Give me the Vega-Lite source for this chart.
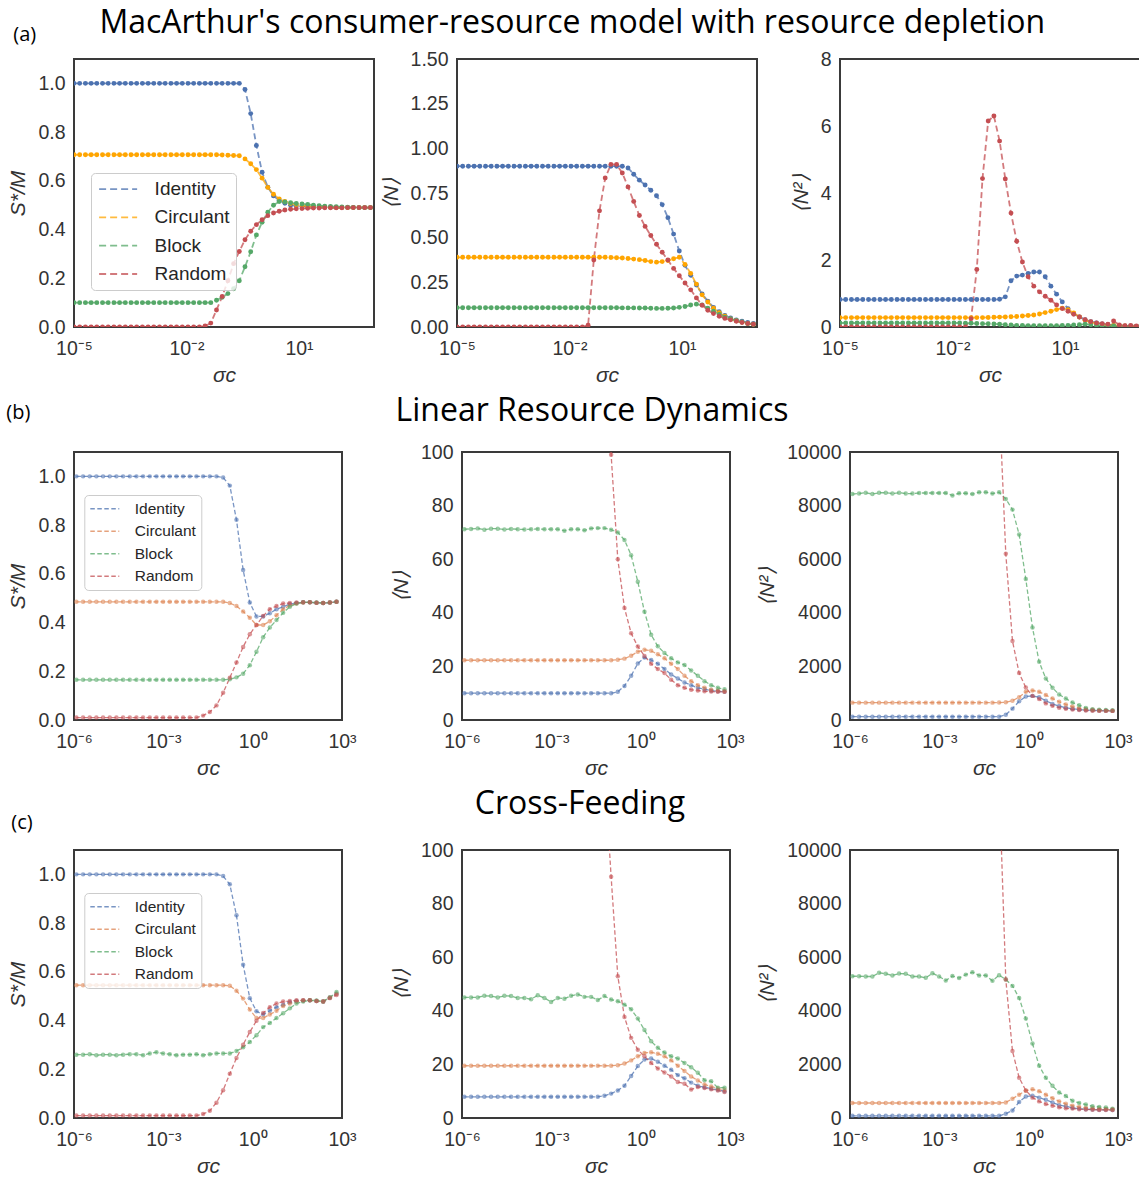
{
"$schema":"https://vega.github.io/schema/vega-lite/v6.json",
"padding":{"left":5,"top":5,"right":0,"bottom":0},
"background":"white",
"config":{
 "font":"Liberation Sans",
 "view":{"stroke":"#3a3a3a","strokeWidth":2},
 "axis":{"domain":false,"ticks":false,"tickSize":0,"grid":false,"labelFontSize":19.5,"labelColor":"#333333","labelFlush":false,"labelOverlap":false,"titleFontSize":21,"titleColor":"#333333","titleFontWeight":"normal","titleFontStyle":"italic","titleFont":"Liberation Sans"},
 "axisX":{"labelPadding":12,"titlePadding":7},
 "axisY":{"labelPadding":9,"titlePadding":9},
 "title":{"font":"Open Sans","fontWeight":"normal","color":"#000000","offset":0,"baseline":"alphabetic","limit":1500}
},
"datasets":{
"a1":[
{"x":1e-5,"I":1,"C":0.707,"B":0.1,"R":0},{"x":1.419e-5,"I":1,"C":0.707,"B":0.1,"R":0},{"x":2.014e-5,"I":1,"C":0.707,"B":0.1,"R":0},{"x":2.858e-5,"I":1,"C":0.707,"B":0.1,"R":0},{"x":4.055e-5,"I":1,"C":0.707,"B":0.1,"R":0},{"x":5.754e-5,"I":1,"C":0.707,"B":0.1,"R":0},{"x":8.166e-5,"I":1,"C":0.707,"B":0.1,"R":0},{"x":1.159e-4,"I":1,"C":0.707,"B":0.1,"R":0},{"x":1.644e-4,"I":1,"C":0.707,"B":0.1,"R":0},{"x":2.333e-4,"I":1,"C":0.707,"B":0.1,"R":0},{"x":3.311e-4,"I":1,"C":0.707,"B":0.1,"R":0},{"x":4.699e-4,"I":1,"C":0.707,"B":0.1,"R":0},{"x":6.668e-4,"I":1,"C":0.707,"B":0.1,"R":0},{"x":9.462e-4,"I":1,"C":0.707,"B":0.1,"R":0},{"x":1.343e-3,"I":1,"C":0.707,"B":0.1,"R":0},{"x":1.905e-3,"I":1,"C":0.707,"B":0.1,"R":0},{"x":2.704e-3,"I":1,"C":0.707,"B":0.1,"R":0},{"x":3.837e-3,"I":1,"C":0.707,"B":0.1,"R":0},{"x":5.445e-3,"I":1,"C":0.707,"B":0.1,"R":0},{"x":7.727e-3,"I":1,"C":0.707,"B":0.1,"R":0},{"x":1.096e-2,"I":1,"C":0.707,"B":0.1,"R":0},{"x":1.556e-2,"I":1,"C":0.707,"B":0.1,"R":0},{"x":2.208e-2,"I":1,"C":0.707,"B":0.1,"R":0},
{"x":3.133e-2,"I":1,"C":0.707,"B":0.1,"R":0.004},{"x":4.446e-2,"I":1,"C":0.707,"B":0.1,"R":0.016},{"x":6.31e-2,"I":1,"C":0.707,"B":0.11,"R":0.07},{"x":8.954e-2,"I":1,"C":0.706,"B":0.122,"R":0.125},{"x":0.1271,"I":1,"C":0.705,"B":0.137,"R":0.19},{"x":0.1803,"I":1,"C":0.704,"B":0.157,"R":0.26},{"x":0.2559,"I":1,"C":0.703,"B":0.19,"R":0.31},{"x":0.3631,"I":0.975,"C":0.69,"B":0.247,"R":0.358},{"x":0.5152,"I":0.876,"C":0.67,"B":0.309,"R":0.393},{"x":0.7311,"I":0.745,"C":0.646,"B":0.378,"R":0.42},{"x":1.038,"I":0.635,"C":0.611,"B":0.43,"R":0.44},{"x":1.472,"I":0.574,"C":0.573,"B":0.471,"R":0.457},{"x":2.089,"I":0.538,"C":0.545,"B":0.5,"R":0.468},{"x":2.965,"I":0.52,"C":0.526,"B":0.515,"R":0.475},{"x":4.207,"I":0.508,"C":0.515,"B":0.513,"R":0.48},{"x":5.97,"I":0.5,"C":0.507,"B":0.51,"R":0.483},{"x":8.472,"I":0.497,"C":0.502,"B":0.507,"R":0.485},{"x":12.02,"I":0.495,"C":0.498,"B":0.505,"R":0.486},{"x":17.06,"I":0.494,"C":0.496,"B":0.503,"R":0.487},{"x":24.21,"I":0.493,"C":0.494,"B":0.5,"R":0.488},{"x":34.36,"I":0.492,"C":0.493,"B":0.498,"R":0.488},{"x":48.75,"I":0.491,"C":0.492,"B":0.496,"R":0.489},{"x":69.18,"I":0.491,"C":0.491,"B":0.495,"R":0.489},{"x":98.17,"I":0.49,"C":0.49,"B":0.494,"R":0.489},{"x":139.3,"I":0.49,"C":0.49,"B":0.493,"R":0.489},{"x":197.7,"I":0.49,"C":0.49,"B":0.492,"R":0.49},{"x":280.5,"I":0.49,"C":0.49,"B":0.491,"R":0.49},{"x":398.1,"I":0.49,"C":0.49,"B":0.49,"R":0.49},{"x":564.9,"I":0.49,"C":0.49,"B":0.49,"R":0.49},{"x":801.7,"I":0.49,"C":0.49,"B":0.49,"R":0.49}
],
"a2":[
{"x":1e-5,"I":0.9,"C":0.39,"B":0.108,"R":0},{"x":1.419e-5,"I":0.9,"C":0.39,"B":0.108,"R":0},{"x":2.014e-5,"I":0.9,"C":0.39,"B":0.108,"R":0},{"x":2.858e-5,"I":0.9,"C":0.39,"B":0.108,"R":0},{"x":4.055e-5,"I":0.9,"C":0.39,"B":0.108,"R":0},{"x":5.754e-5,"I":0.9,"C":0.39,"B":0.108,"R":0},{"x":8.166e-5,"I":0.9,"C":0.39,"B":0.108,"R":0},{"x":1.159e-4,"I":0.9,"C":0.39,"B":0.108,"R":0},{"x":1.644e-4,"I":0.9,"C":0.39,"B":0.108,"R":0},{"x":2.333e-4,"I":0.9,"C":0.39,"B":0.108,"R":0},{"x":3.311e-4,"I":0.9,"C":0.39,"B":0.108,"R":0},{"x":4.699e-4,"I":0.9,"C":0.39,"B":0.108,"R":0},{"x":6.668e-4,"I":0.9,"C":0.39,"B":0.108,"R":0},{"x":9.462e-4,"I":0.9,"C":0.39,"B":0.108,"R":0},{"x":1.343e-3,"I":0.9,"C":0.39,"B":0.108,"R":0},{"x":1.905e-3,"I":0.9,"C":0.39,"B":0.108,"R":0},{"x":2.704e-3,"I":0.9,"C":0.39,"B":0.108,"R":0},{"x":3.837e-3,"I":0.9,"C":0.39,"B":0.108,"R":0},{"x":5.445e-3,"I":0.9,"C":0.39,"B":0.108,"R":0},{"x":7.727e-3,"I":0.9,"C":0.39,"B":0.108,"R":0},{"x":1.096e-2,"I":0.9,"C":0.39,"B":0.108,"R":0},{"x":1.556e-2,"I":0.9,"C":0.39,"B":0.108,"R":0},{"x":2.208e-2,"I":0.9,"C":0.39,"B":0.108,"R":0},
{"x":3.133e-2,"I":0.9,"C":0.39,"B":0.108,"R":0.01},{"x":4.446e-2,"I":0.9,"C":0.39,"B":0.108,"R":0.375},{"x":6.31e-2,"I":0.9,"C":0.39,"B":0.108,"R":0.65},{"x":8.954e-2,"I":0.9,"C":0.39,"B":0.108,"R":0.834},{"x":0.1271,"I":0.9,"C":0.389,"B":0.108,"R":0.91},{"x":0.1803,"I":0.9,"C":0.388,"B":0.108,"R":0.91},{"x":0.2559,"I":0.9,"C":0.386,"B":0.107,"R":0.862},{"x":0.3631,"I":0.89,"C":0.383,"B":0.107,"R":0.784},{"x":0.5152,"I":0.855,"C":0.38,"B":0.107,"R":0.703},{"x":0.7311,"I":0.822,"C":0.377,"B":0.106,"R":0.624},{"x":1.038,"I":0.795,"C":0.372,"B":0.106,"R":0.563},{"x":1.472,"I":0.765,"C":0.366,"B":0.105,"R":0.512},{"x":2.089,"I":0.735,"C":0.363,"B":0.104,"R":0.463},{"x":2.965,"I":0.685,"C":0.366,"B":0.104,"R":0.418},{"x":4.207,"I":0.612,"C":0.372,"B":0.105,"R":0.375},{"x":5.97,"I":0.52,"C":0.382,"B":0.106,"R":0.328},{"x":8.472,"I":0.425,"C":0.39,"B":0.11,"R":0.287},{"x":12.02,"I":0.345,"C":0.35,"B":0.115,"R":0.246},{"x":17.06,"I":0.29,"C":0.3,"B":0.123,"R":0.208},{"x":24.21,"I":0.235,"C":0.24,"B":0.128,"R":0.163},{"x":34.36,"I":0.185,"C":0.18,"B":0.124,"R":0.122},{"x":48.75,"I":0.145,"C":0.14,"B":0.105,"R":0.094},{"x":69.18,"I":0.11,"C":0.105,"B":0.088,"R":0.075},{"x":98.17,"I":0.085,"C":0.08,"B":0.07,"R":0.06},{"x":139.3,"I":0.065,"C":0.06,"B":0.055,"R":0.048},{"x":197.7,"I":0.05,"C":0.045,"B":0.045,"R":0.04},{"x":280.5,"I":0.04,"C":0.035,"B":0.035,"R":0.032},{"x":398.1,"I":0.032,"C":0.027,"B":0.028,"R":0.025},{"x":564.9,"I":0.025,"C":0.02,"B":0.02,"R":0.02},{"x":801.7,"I":0.02,"C":0.015,"B":0.015,"R":0.015}
],
"a3":[
{"x":1e-5,"I":0.82,"C":0.28,"B":0.12,"R":0},{"x":1.419e-5,"I":0.82,"C":0.28,"B":0.12,"R":0},{"x":2.014e-5,"I":0.82,"C":0.28,"B":0.12,"R":0},{"x":2.858e-5,"I":0.82,"C":0.28,"B":0.12,"R":0},{"x":4.055e-5,"I":0.82,"C":0.28,"B":0.12,"R":0},{"x":5.754e-5,"I":0.82,"C":0.28,"B":0.12,"R":0},{"x":8.166e-5,"I":0.82,"C":0.28,"B":0.12,"R":0},{"x":1.159e-4,"I":0.82,"C":0.28,"B":0.12,"R":0},{"x":1.644e-4,"I":0.82,"C":0.28,"B":0.12,"R":0},{"x":2.333e-4,"I":0.82,"C":0.28,"B":0.12,"R":0},{"x":3.311e-4,"I":0.82,"C":0.28,"B":0.12,"R":0},{"x":4.699e-4,"I":0.82,"C":0.28,"B":0.12,"R":0},{"x":6.668e-4,"I":0.82,"C":0.28,"B":0.12,"R":0},{"x":9.462e-4,"I":0.82,"C":0.28,"B":0.12,"R":0},{"x":1.343e-3,"I":0.82,"C":0.28,"B":0.12,"R":0},{"x":1.905e-3,"I":0.82,"C":0.28,"B":0.12,"R":0},{"x":2.704e-3,"I":0.82,"C":0.28,"B":0.12,"R":0},{"x":3.837e-3,"I":0.82,"C":0.28,"B":0.12,"R":0},{"x":5.445e-3,"I":0.82,"C":0.28,"B":0.12,"R":0},{"x":7.727e-3,"I":0.82,"C":0.28,"B":0.12,"R":0},{"x":1.096e-2,"I":0.82,"C":0.28,"B":0.12,"R":0},{"x":1.556e-2,"I":0.82,"C":0.28,"B":0.12,"R":0},
{"x":2.208e-2,"I":0.82,"C":0.28,"B":0.115,"R":0},{"x":3.133e-2,"I":0.82,"C":0.28,"B":0.11,"R":0.25},{"x":4.446e-2,"I":0.82,"C":0.28,"B":0.105,"R":1.72},{"x":6.31e-2,"I":0.82,"C":0.28,"B":0.1,"R":4.43},{"x":8.954e-2,"I":0.82,"C":0.285,"B":0.095,"R":6.15},{"x":0.1271,"I":0.82,"C":0.29,"B":0.09,"R":6.3},{"x":0.1803,"I":0.83,"C":0.295,"B":0.08,"R":5.55},{"x":0.2559,"I":0.9,"C":0.3,"B":0.07,"R":4.42},{"x":0.3631,"I":1.38,"C":0.305,"B":0.06,"R":3.4},{"x":0.5152,"I":1.52,"C":0.315,"B":0.05,"R":2.56},{"x":0.7311,"I":1.55,"C":0.33,"B":0.045,"R":1.94},{"x":1.038,"I":1.6,"C":0.345,"B":0.04,"R":1.5},{"x":1.472,"I":1.64,"C":0.36,"B":0.04,"R":1.22},{"x":2.089,"I":1.64,"C":0.39,"B":0.04,"R":1.05},{"x":2.965,"I":1.5,"C":0.43,"B":0.04,"R":0.92},{"x":4.207,"I":1.22,"C":0.47,"B":0.04,"R":0.8},{"x":5.97,"I":0.98,"C":0.52,"B":0.04,"R":0.66},{"x":8.472,"I":0.75,"C":0.56,"B":0.045,"R":0.55},{"x":12.02,"I":0.55,"C":0.52,"B":0.05,"R":0.47},{"x":17.06,"I":0.4,"C":0.42,"B":0.06,"R":0.38},{"x":24.21,"I":0.3,"C":0.3,"B":0.07,"R":0.3},{"x":34.36,"I":0.22,"C":0.2,"B":0.08,"R":0.22},{"x":48.75,"I":0.16,"C":0.14,"B":0.07,"R":0.16},{"x":69.18,"I":0.12,"C":0.1,"B":0.05,"R":0.12},{"x":98.17,"I":0.09,"C":0.07,"B":0.04,"R":0.1},{"x":139.3,"I":0.07,"C":0.06,"B":0.03,"R":0.08},{"x":197.7,"I":0.05,"C":0.05,"B":0.03,"R":0.18},{"x":280.5,"I":0.04,"C":0.04,"B":0.02,"R":0.06},{"x":398.1,"I":0.03,"C":0.03,"B":0.02,"R":0.04},{"x":564.9,"I":0.03,"C":0.02,"B":0.02,"R":0.05},{"x":801.7,"I":0.02,"C":0.02,"B":0.02,"R":0.03}
],
"b1":[
{"x":1.202e-6,"I":1,"C":0.485,"B":0.165,"R":0.01},{"x":2.014e-6,"I":1,"C":0.485,"B":0.165,"R":0.01},{"x":3.373e-6,"I":1,"C":0.485,"B":0.165,"R":0.01},{"x":5.649e-6,"I":1,"C":0.485,"B":0.165,"R":0.01},{"x":9.462e-6,"I":1,"C":0.485,"B":0.165,"R":0.01},{"x":1.585e-5,"I":1,"C":0.485,"B":0.165,"R":0.01},{"x":2.655e-5,"I":1,"C":0.485,"B":0.165,"R":0.01},{"x":4.446e-5,"I":1,"C":0.485,"B":0.165,"R":0.01},{"x":7.447e-5,"I":1,"C":0.485,"B":0.165,"R":0.01},{"x":1.247e-4,"I":1,"C":0.485,"B":0.165,"R":0.01},{"x":2.089e-4,"I":1,"C":0.485,"B":0.165,"R":0.01},{"x":3.499e-4,"I":1,"C":0.485,"B":0.165,"R":0.01},{"x":5.861e-4,"I":1,"C":0.485,"B":0.165,"R":0.01},{"x":9.817e-4,"I":1,"C":0.485,"B":0.165,"R":0.01},{"x":1.644e-3,"I":1,"C":0.485,"B":0.165,"R":0.01},{"x":2.754e-3,"I":1,"C":0.485,"B":0.165,"R":0.01},{"x":4.613e-3,"I":1,"C":0.485,"B":0.165,"R":0.01},{"x":7.727e-3,"I":1,"C":0.485,"B":0.165,"R":0.01},{"x":1.294e-2,"I":1,"C":0.485,"B":0.165,"R":0.01},
{"x":2.168e-2,"I":1,"C":0.485,"B":0.165,"R":0.018},{"x":3.631e-2,"I":1,"C":0.485,"B":0.165,"R":0.033},{"x":6.081e-2,"I":1,"C":0.485,"B":0.165,"R":0.06},{"x":0.1019,"I":0.995,"C":0.485,"B":0.165,"R":0.112},{"x":0.1706,"I":0.962,"C":0.48,"B":0.167,"R":0.173},{"x":0.2858,"I":0.822,"C":0.468,"B":0.175,"R":0.236},{"x":0.4786,"I":0.616,"C":0.445,"B":0.19,"R":0.3},{"x":0.8017,"I":0.482,"C":0.42,"B":0.225,"R":0.352},{"x":1.343,"I":0.425,"C":0.39,"B":0.28,"R":0.39},{"x":2.249,"I":0.425,"C":0.39,"B":0.34,"R":0.427},{"x":3.767,"I":0.438,"C":0.405,"B":0.38,"R":0.455},{"x":6.31,"I":0.455,"C":0.43,"B":0.41,"R":0.468},{"x":10.57,"I":0.465,"C":0.455,"B":0.44,"R":0.478},{"x":17.7,"I":0.475,"C":0.47,"B":0.465,"R":0.48},{"x":29.65,"I":0.48,"C":0.478,"B":0.478,"R":0.482},{"x":49.66,"I":0.483,"C":0.482,"B":0.483,"R":0.483},{"x":83.18,"I":0.483,"C":0.483,"B":0.483,"R":0.483},{"x":139.3,"I":0.481,"C":0.481,"B":0.482,"R":0.481},{"x":233.3,"I":0.48,"C":0.48,"B":0.48,"R":0.48},{"x":390.8,"I":0.482,"C":0.482,"B":0.482,"R":0.482},{"x":654.6,"I":0.485,"C":0.485,"B":0.485,"R":0.485}
],
"b2":[
{"x":1.202e-6,"I":10,"C":22.3,"B":71.2,"R":null},{"x":2.014e-6,"I":10,"C":22.3,"B":71.3,"R":null},{"x":3.373e-6,"I":10,"C":22.3,"B":71.5,"R":null},{"x":5.649e-6,"I":10,"C":22.3,"B":71,"R":null},{"x":9.462e-6,"I":10,"C":22.3,"B":71.4,"R":null},{"x":1.585e-5,"I":10,"C":22.3,"B":71.4,"R":null},{"x":2.655e-5,"I":10,"C":22.3,"B":71.1,"R":null},{"x":4.446e-5,"I":10,"C":22.3,"B":71.3,"R":null},{"x":7.447e-5,"I":10,"C":22.3,"B":71.2,"R":null},{"x":1.247e-4,"I":10,"C":22.3,"B":71.1,"R":null},{"x":2.089e-4,"I":10,"C":22.3,"B":71.2,"R":null},{"x":3.499e-4,"I":10,"C":22.3,"B":71.3,"R":null},{"x":5.861e-4,"I":10,"C":22.3,"B":71.2,"R":null},{"x":9.817e-4,"I":10,"C":22.3,"B":71.2,"R":null},{"x":1.644e-3,"I":10,"C":22.3,"B":71.2,"R":null},{"x":2.754e-3,"I":10,"C":22.3,"B":70.6,"R":null},{"x":4.613e-3,"I":10,"C":22.3,"B":71.2,"R":null},{"x":7.727e-3,"I":10,"C":22.3,"B":71.2,"R":null},{"x":1.294e-2,"I":10,"C":22.3,"B":70.8,"R":null},{"x":2.168e-2,"I":10,"C":22.3,"B":71.5,"R":null},{"x":3.631e-2,"I":10,"C":22.3,"B":71.6,"R":null},
{"x":6.081e-2,"I":10,"C":22.3,"B":71.6,"R":160},{"x":0.1019,"I":10,"C":22.3,"B":71,"R":99},{"x":0.1706,"I":10.5,"C":22.5,"B":70,"R":60},{"x":0.2858,"I":12.7,"C":22.9,"B":67.2,"R":41.8},{"x":0.4786,"I":16.5,"C":24,"B":61.5,"R":32.4},{"x":0.8017,"I":21.1,"C":25.5,"B":51.6,"R":27.4},{"x":1.343,"I":23.3,"C":26.2,"B":40.4,"R":23.9},{"x":2.249,"I":22.4,"C":25.8,"B":31.8,"R":21},{"x":3.767,"I":21,"C":24.5,"B":27.5,"R":19},{"x":6.31,"I":19,"C":23,"B":25,"R":17.5},{"x":10.57,"I":17,"C":21,"B":23,"R":15},{"x":17.7,"I":15.5,"C":19,"B":21.5,"R":13},{"x":29.65,"I":14,"C":16.5,"B":20.5,"R":12},{"x":49.66,"I":13,"C":14.5,"B":18.5,"R":11.3},{"x":83.18,"I":12,"C":13,"B":16.5,"R":11},{"x":139.3,"I":11.5,"C":12,"B":14.5,"R":10.7},{"x":233.3,"I":11,"C":11.3,"B":13,"R":10.6},{"x":390.8,"I":10.7,"C":11,"B":12,"R":10.5},{"x":654.6,"I":10.5,"C":10.7,"B":11.5,"R":10.5}
],
"b3":[
{"x":1.202e-6,"I":125,"C":648,"B":8430,"R":null},{"x":2.014e-6,"I":125,"C":648,"B":8450,"R":null},{"x":3.373e-6,"I":125,"C":648,"B":8480,"R":null},{"x":5.649e-6,"I":125,"C":648,"B":8430,"R":null},{"x":9.462e-6,"I":125,"C":648,"B":8480,"R":null},{"x":1.585e-5,"I":125,"C":648,"B":8480,"R":null},{"x":2.655e-5,"I":125,"C":648,"B":8450,"R":null},{"x":4.446e-5,"I":125,"C":648,"B":8480,"R":null},{"x":7.447e-5,"I":125,"C":648,"B":8450,"R":null},{"x":1.247e-4,"I":125,"C":648,"B":8450,"R":null},{"x":2.089e-4,"I":125,"C":648,"B":8470,"R":null},{"x":3.499e-4,"I":125,"C":648,"B":8470,"R":null},{"x":5.861e-4,"I":125,"C":648,"B":8470,"R":null},{"x":9.817e-4,"I":125,"C":648,"B":8470,"R":null},{"x":1.644e-3,"I":125,"C":648,"B":8470,"R":null},{"x":2.754e-3,"I":125,"C":648,"B":8380,"R":null},{"x":4.613e-3,"I":125,"C":648,"B":8460,"R":null},{"x":7.727e-3,"I":125,"C":648,"B":8460,"R":null},{"x":1.294e-2,"I":125,"C":648,"B":8430,"R":null},{"x":2.168e-2,"I":125,"C":648,"B":8500,"R":null},{"x":3.631e-2,"I":125,"C":648,"B":8500,"R":null},{"x":6.081e-2,"I":125,"C":648,"B":8450,"R":null},
{"x":0.1019,"I":125,"C":650,"B":8500,"R":12000},{"x":0.1706,"I":200,"C":660,"B":8250,"R":6200},{"x":0.2858,"I":424,"C":720,"B":7850,"R":2950},{"x":0.4786,"I":700,"C":850,"B":6920,"R":1750},{"x":0.8017,"I":873,"C":1050,"B":5260,"R":1210},{"x":1.343,"I":900,"C":1100,"B":3450,"R":900},{"x":2.249,"I":850,"C":1050,"B":2170,"R":780},{"x":3.767,"I":720,"C":930,"B":1550,"R":620},{"x":6.31,"I":600,"C":800,"B":1200,"R":530},{"x":10.57,"I":520,"C":680,"B":950,"R":460},{"x":17.7,"I":460,"C":580,"B":800,"R":420},{"x":29.65,"I":420,"C":500,"B":650,"R":390},{"x":49.66,"I":390,"C":440,"B":550,"R":370},{"x":83.18,"I":370,"C":400,"B":450,"R":355},{"x":139.3,"I":360,"C":380,"B":400,"R":345},{"x":233.3,"I":350,"C":360,"B":380,"R":340},{"x":390.8,"I":345,"C":350,"B":370,"R":340},{"x":654.6,"I":340,"C":345,"B":360,"R":340}
],
"c1":[
{"x":1.202e-6,"I":1,"C":0.545,"B":0.26,"R":0.01},{"x":2.014e-6,"I":1,"C":0.545,"B":0.26,"R":0.01},{"x":3.373e-6,"I":1,"C":0.545,"B":0.262,"R":0.01},{"x":5.649e-6,"I":1,"C":0.545,"B":0.258,"R":0.01},{"x":9.462e-6,"I":1,"C":0.545,"B":0.26,"R":0.01},{"x":1.585e-5,"I":1,"C":0.545,"B":0.26,"R":0.01},{"x":2.655e-5,"I":1,"C":0.545,"B":0.258,"R":0.01},{"x":4.446e-5,"I":1,"C":0.545,"B":0.26,"R":0.01},{"x":7.447e-5,"I":1,"C":0.545,"B":0.262,"R":0.01},{"x":1.247e-4,"I":1,"C":0.545,"B":0.262,"R":0.01},{"x":2.089e-4,"I":1,"C":0.545,"B":0.258,"R":0.01},{"x":3.499e-4,"I":1,"C":0.545,"B":0.265,"R":0.01},{"x":5.861e-4,"I":1,"C":0.545,"B":0.27,"R":0.01},{"x":9.817e-4,"I":1,"C":0.545,"B":0.265,"R":0.01},{"x":1.644e-3,"I":1,"C":0.545,"B":0.262,"R":0.01},{"x":2.754e-3,"I":1,"C":0.545,"B":0.258,"R":0.01},{"x":4.613e-3,"I":1,"C":0.545,"B":0.26,"R":0.01},{"x":7.727e-3,"I":1,"C":0.545,"B":0.26,"R":0.01},{"x":1.294e-2,"I":1,"C":0.545,"B":0.262,"R":0.01},
{"x":2.168e-2,"I":1,"C":0.545,"B":0.258,"R":0.016},{"x":3.631e-2,"I":1,"C":0.545,"B":0.262,"R":0.03},{"x":6.081e-2,"I":1,"C":0.545,"B":0.265,"R":0.063},{"x":0.1019,"I":0.993,"C":0.545,"B":0.265,"R":0.114},{"x":0.1706,"I":0.959,"C":0.543,"B":0.265,"R":0.182},{"x":0.2858,"I":0.832,"C":0.522,"B":0.275,"R":0.246},{"x":0.4786,"I":0.629,"C":0.49,"B":0.29,"R":0.301},{"x":0.8017,"I":0.492,"C":0.445,"B":0.312,"R":0.353},{"x":1.343,"I":0.438,"C":0.41,"B":0.34,"R":0.399},{"x":2.249,"I":0.425,"C":0.41,"B":0.373,"R":0.431},{"x":3.767,"I":0.44,"C":0.425,"B":0.39,"R":0.455},{"x":6.31,"I":0.455,"C":0.44,"B":0.41,"R":0.47},{"x":10.57,"I":0.465,"C":0.46,"B":0.43,"R":0.478},{"x":17.7,"I":0.475,"C":0.47,"B":0.45,"R":0.48},{"x":29.65,"I":0.48,"C":0.478,"B":0.47,"R":0.483},{"x":49.66,"I":0.482,"C":0.482,"B":0.478,"R":0.483},{"x":83.18,"I":0.483,"C":0.483,"B":0.483,"R":0.483},{"x":139.3,"I":0.48,"C":0.48,"B":0.482,"R":0.48},{"x":233.3,"I":0.478,"C":0.478,"B":0.478,"R":0.478},{"x":390.8,"I":0.495,"C":0.495,"B":0.495,"R":0.492},{"x":654.6,"I":0.51,"C":0.51,"B":0.517,"R":0.505}
],
"c2":[
{"x":1.202e-6,"I":7.9,"C":19.5,"B":45,"R":null},{"x":2.014e-6,"I":7.9,"C":19.5,"B":45,"R":null},{"x":3.373e-6,"I":7.9,"C":19.5,"B":45,"R":null},{"x":5.649e-6,"I":7.9,"C":19.5,"B":45.6,"R":null},{"x":9.462e-6,"I":7.9,"C":19.5,"B":45.5,"R":null},{"x":1.585e-5,"I":7.9,"C":19.5,"B":45,"R":null},{"x":2.655e-5,"I":7.9,"C":19.5,"B":45.6,"R":null},{"x":4.446e-5,"I":7.9,"C":19.5,"B":45.5,"R":null},{"x":7.447e-5,"I":7.9,"C":19.5,"B":44.8,"R":null},{"x":1.247e-4,"I":7.9,"C":19.5,"B":44.8,"R":null},{"x":2.089e-4,"I":7.9,"C":19.5,"B":44.3,"R":null},{"x":3.499e-4,"I":7.9,"C":19.5,"B":45.8,"R":null},{"x":5.861e-4,"I":7.9,"C":19.5,"B":44.8,"R":null},{"x":9.817e-4,"I":7.9,"C":19.5,"B":43.3,"R":null},{"x":1.644e-3,"I":7.9,"C":19.5,"B":44.8,"R":null},{"x":2.754e-3,"I":7.9,"C":19.5,"B":44.5,"R":null},{"x":4.613e-3,"I":7.9,"C":19.5,"B":45.6,"R":null},{"x":7.727e-3,"I":7.9,"C":19.5,"B":46.1,"R":null},{"x":1.294e-2,"I":7.9,"C":19.5,"B":45.2,"R":null},{"x":2.168e-2,"I":7.9,"C":19.5,"B":45.2,"R":null},{"x":3.631e-2,"I":7.9,"C":19.5,"B":44,"R":null},
{"x":6.081e-2,"I":8.3,"C":19.5,"B":45.5,"R":130},{"x":0.1019,"I":9.1,"C":19.5,"B":44.2,"R":90},{"x":0.1706,"I":10.3,"C":19.7,"B":43.6,"R":52.9},{"x":0.2858,"I":12,"C":20.3,"B":42.3,"R":37.7},{"x":0.4786,"I":15.7,"C":21.5,"B":40.6,"R":29.9},{"x":0.8017,"I":19.4,"C":23,"B":37.1,"R":25.5},{"x":1.343,"I":21.8,"C":24.3,"B":32.8,"R":23},{"x":2.249,"I":22.2,"C":24.5,"B":28.6,"R":20.5},{"x":3.767,"I":21,"C":24,"B":26.2,"R":18.5},{"x":6.31,"I":19.5,"C":23,"B":24.4,"R":17},{"x":10.57,"I":18,"C":21.5,"B":23,"R":15.5},{"x":17.7,"I":16,"C":19.5,"B":22.2,"R":13.4},{"x":29.65,"I":14.8,"C":17.5,"B":20.5,"R":12.8},{"x":49.66,"I":13.2,"C":15.5,"B":18.9,"R":10.6},{"x":83.18,"I":12,"C":14,"B":16.9,"R":11.6},{"x":139.3,"I":11.5,"C":12.5,"B":14.1,"R":11.2},{"x":233.3,"I":11,"C":11.8,"B":13.7,"R":10.7},{"x":390.8,"I":10.5,"C":11,"B":11.3,"R":10.3},{"x":654.6,"I":10,"C":10.5,"B":11.3,"R":9.7}
],
"c3":[
{"x":1.202e-6,"I":80,"C":560,"B":5290,"R":null},{"x":2.014e-6,"I":80,"C":560,"B":5290,"R":null},{"x":3.373e-6,"I":80,"C":560,"B":5280,"R":null},{"x":5.649e-6,"I":80,"C":560,"B":5280,"R":null},{"x":9.462e-6,"I":80,"C":560,"B":5420,"R":null},{"x":1.585e-5,"I":80,"C":560,"B":5380,"R":null},{"x":2.655e-5,"I":80,"C":560,"B":5320,"R":null},{"x":4.446e-5,"I":80,"C":560,"B":5390,"R":null},{"x":7.447e-5,"I":80,"C":560,"B":5380,"R":null},{"x":1.247e-4,"I":80,"C":560,"B":5280,"R":null},{"x":2.089e-4,"I":80,"C":560,"B":5280,"R":null},{"x":3.499e-4,"I":80,"C":560,"B":5230,"R":null},{"x":5.861e-4,"I":80,"C":560,"B":5400,"R":null},{"x":9.817e-4,"I":80,"C":560,"B":5280,"R":null},{"x":1.644e-3,"I":80,"C":560,"B":5130,"R":null},{"x":2.754e-3,"I":80,"C":560,"B":5300,"R":null},{"x":4.613e-3,"I":80,"C":560,"B":5220,"R":null},{"x":7.727e-3,"I":80,"C":560,"B":5350,"R":null},{"x":1.294e-2,"I":80,"C":560,"B":5440,"R":null},{"x":2.168e-2,"I":80,"C":560,"B":5320,"R":null},{"x":3.631e-2,"I":80,"C":560,"B":5320,"R":null},{"x":6.081e-2,"I":80,"C":560,"B":5120,"R":null},
{"x":0.1019,"I":80,"C":560,"B":5330,"R":12600},{"x":0.1706,"I":160,"C":580,"B":5170,"R":5170},{"x":0.2858,"I":280,"C":720,"B":4930,"R":2500},{"x":0.4786,"I":600,"C":870,"B":4480,"R":1500},{"x":0.8017,"I":800,"C":1020,"B":3710,"R":1030},{"x":1.343,"I":830,"C":1070,"B":2780,"R":760},{"x":2.249,"I":760,"C":1000,"B":1950,"R":620},{"x":3.767,"I":680,"C":870,"B":1500,"R":520},{"x":6.31,"I":580,"C":740,"B":1200,"R":460},{"x":10.57,"I":480,"C":620,"B":950,"R":400},{"x":17.7,"I":440,"C":530,"B":820,"R":360},{"x":29.65,"I":380,"C":460,"B":640,"R":350},{"x":49.66,"I":350,"C":410,"B":560,"R":330},{"x":83.18,"I":330,"C":380,"B":500,"R":320},{"x":139.3,"I":320,"C":360,"B":440,"R":310},{"x":233.3,"I":310,"C":345,"B":410,"R":300},{"x":390.8,"I":305,"C":335,"B":390,"R":300},{"x":654.6,"I":300,"C":330,"B":350,"R":300}
]
},
"spacing":6,
"resolve":{"scale":{"color":"independent"},"legend":{"color":"independent"}},
"vconcat":[
{"hconcat":[
 {"width":300,"height":268,"data":{"name":"a1"},"transform":[{"fold":["I","C","B","R"],"as":["s","y"]}],
  "title":{"text":"(a)","anchor":"start","frame":"group","dx":-60.7,"dy":-10,"fontSize":20},
  "encoding":{"x":{"field":"x","type":"quantitative","scale":{"type":"log","domain":[1e-5,1000],"nice":false},"axis":{"values":[1e-5,0.01,10],"labelExpr":"datum.value < 1e-4 ? '10⁻⁵' : datum.value < 1 ? '10⁻²' : '10¹'","title":"σc"}},
   "y":{"field":"y","type":"quantitative","scale":{"domain":[0,1.1],"nice":false,"zero":false},"axis":{"values":[0,0.2,0.4,0.6,0.8,1],"format":".1f","title":"S*/M"}}},
  "layer":[
   {"mark":{"type":"line","strokeDash":[6,3.5],"strokeWidth":1.8,"opacity":0.75,"clip":true},"encoding":{"color":{"field":"s","type":"nominal","scale":{"domain":["I","C","B","R"],"range":["#4c72b0","#ffa500","#55a868","#c44e52"]},"legend":{"orient":"none","legendX":17,"legendY":114,"title":null,"symbolType":"M-0.84,0H3.16","symbolSize":361,"symbolStrokeWidth":1.8,"symbolDash":[7,4],"symbolOpacity":0.75,"labelFontSize":19,"labelFont":"Liberation Sans","labelColor":"#262626","labelOffset":37,"rowPadding":7.3,"padding":5.6,"strokeColor":"#cccccc","fillColor":"rgba(255,255,255,0.8)","cornerRadius":4,"labelExpr":"datum.label == 'I' ? 'Identity' : datum.label == 'C' ? 'Circulant' : datum.label == 'B' ? 'Block' : 'Random'"}}}},
   {"mark":{"type":"point","filled":true,"size":24,"opacity":1,"clip":true},"encoding":{"color":{"field":"s","type":"nominal","scale":{"domain":["I","C","B","R"],"range":["#4c72b0","#ffa500","#55a868","#c44e52"]},"legend":null}}}
  ]},
 {"width":300,"height":268,"data":{"name":"a2"},"transform":[{"fold":["I","C","B","R"],"as":["s","y"]}],
  "title":{"text":"MacArthur's consumer-resource model with resource depletion","anchor":"middle","frame":"group","dx":-34.7,"dy":-5.3,"fontSize":32},
  "encoding":{"x":{"field":"x","type":"quantitative","scale":{"type":"log","domain":[1e-5,1000],"nice":false},"axis":{"values":[1e-5,0.01,10],"labelExpr":"datum.value < 1e-4 ? '10⁻⁵' : datum.value < 1 ? '10⁻²' : '10¹'","title":"σc"}},
   "y":{"field":"y","type":"quantitative","scale":{"domain":[0,1.5],"nice":false,"zero":false},"axis":{"values":[0,0.25,0.5,0.75,1,1.25,1.5],"format":".2f","title":"⟨N⟩"}},
   "color":{"field":"s","type":"nominal","scale":{"domain":["I","C","B","R"],"range":["#4c72b0","#ffa500","#55a868","#c44e52"]},"legend":null}},
  "layer":[
   {"mark":{"type":"line","strokeDash":[6,3.5],"strokeWidth":1.8,"opacity":0.75,"clip":true}},
   {"mark":{"type":"point","filled":true,"size":24,"opacity":1,"clip":true}}
  ]},
 {"width":300,"height":268,"data":{"name":"a3"},"transform":[{"fold":["I","C","B","R"],"as":["s","y"]}],
  "encoding":{"x":{"field":"x","type":"quantitative","scale":{"type":"log","domain":[1e-5,1000],"nice":false},"axis":{"values":[1e-5,0.01,10],"labelExpr":"datum.value < 1e-4 ? '10⁻⁵' : datum.value < 1 ? '10⁻²' : '10¹'","title":"σc"}},
   "y":{"field":"y","type":"quantitative","scale":{"domain":[0,8],"nice":false,"zero":false},"axis":{"values":[0,2,4,6,8],"format":"d","title":"⟨N²⟩"}},
   "color":{"field":"s","type":"nominal","scale":{"domain":["I","C","B","R"],"range":["#4c72b0","#ffa500","#55a868","#c44e52"]},"legend":null}},
  "layer":[
   {"mark":{"type":"line","strokeDash":[6,3.5],"strokeWidth":1.8,"opacity":0.75,"clip":true}},
   {"mark":{"type":"point","filled":true,"size":24,"opacity":1,"clip":true}}
  ]}
 ],"spacing":83,"bounds":"flush","resolve":{"scale":{"color":"independent"},"legend":{"color":"independent"}}},
{"hconcat":[
 {"width":268,"height":268,"data":{"name":"b1"},"transform":[{"fold":["I","C","B","R"],"as":["s","y"]}],
  "title":{"text":"(b)","anchor":"start","frame":"group","dx":-67.7,"dy":-25,"fontSize":20},
  "encoding":{"x":{"field":"x","type":"quantitative","scale":{"type":"log","domain":[1e-6,1000],"nice":false},"axis":{"values":[1e-6,0.001,1,1000],"labelExpr":"datum.value < 1e-5 ? '10⁻⁶' : datum.value < 0.01 ? '10⁻³' : datum.value < 10 ? '10⁰' : '10³'","title":"σc"}},
   "y":{"field":"y","type":"quantitative","scale":{"domain":[0,1.1],"nice":false,"zero":false},"axis":{"values":[0,0.2,0.4,0.6,0.8,1],"format":".1f","title":"S*/M"}}},
  "layer":[
   {"mark":{"type":"line","strokeDash":[4.5,2.5],"strokeWidth":1.3,"opacity":0.75,"clip":true},"encoding":{"color":{"field":"s","type":"nominal","scale":{"domain":["I","C","B","R"],"range":["#4c72b0","#dd8452","#55a868","#c44e52"]},"legend":{"orient":"none","legendX":10.3,"legendY":43,"title":null,"symbolType":"M-1,0H2.74","symbolSize":240,"symbolStrokeWidth":1.3,"symbolDash":[4.5,2.5],"symbolOpacity":0.75,"labelFontSize":15.5,"labelFont":"Liberation Sans","labelColor":"#262626","labelOffset":28.2,"rowPadding":5.5,"padding":5.25,"strokeColor":"#cccccc","fillColor":"rgba(255,255,255,0.8)","cornerRadius":4,"labelExpr":"datum.label == 'I' ? 'Identity' : datum.label == 'C' ? 'Circulant' : datum.label == 'B' ? 'Block' : 'Random'"}}}},
   {"mark":{"type":"point","filled":true,"size":20,"opacity":0.6,"clip":true},"encoding":{"color":{"field":"s","type":"nominal","scale":{"domain":["I","C","B","R"],"range":["#4c72b0","#dd8452","#55a868","#c44e52"]},"legend":null}}}
  ]},
 {"width":268,"height":268,"data":{"name":"b2"},"transform":[{"fold":["I","C","B","R"],"as":["s","y"]}],
  "title":{"text":"Linear Resource Dynamics","anchor":"middle","frame":"group","dx":-4,"dy":-10.5,"fontSize":32},
  "encoding":{"x":{"field":"x","type":"quantitative","scale":{"type":"log","domain":[1e-6,1000],"nice":false},"axis":{"values":[1e-6,0.001,1,1000],"labelExpr":"datum.value < 1e-5 ? '10⁻⁶' : datum.value < 0.01 ? '10⁻³' : datum.value < 10 ? '10⁰' : '10³'","title":"σc"}},
   "y":{"field":"y","type":"quantitative","scale":{"domain":[0,100],"nice":false,"zero":false},"axis":{"values":[0,20,40,60,80,100],"format":"d","title":"⟨N⟩"}},
   "color":{"field":"s","type":"nominal","scale":{"domain":["I","C","B","R"],"range":["#4c72b0","#dd8452","#55a868","#c44e52"]},"legend":null}},
  "layer":[
   {"mark":{"type":"line","strokeDash":[4.5,2.5],"strokeWidth":1.3,"opacity":0.75,"clip":true}},
   {"mark":{"type":"point","filled":true,"size":20,"opacity":0.6,"clip":true}}
  ]},
 {"width":268,"height":268,"data":{"name":"b3"},"transform":[{"fold":["I","C","B","R"],"as":["s","y"]}],
  "encoding":{"x":{"field":"x","type":"quantitative","scale":{"type":"log","domain":[1e-6,1000],"nice":false},"axis":{"values":[1e-6,0.001,1,1000],"labelExpr":"datum.value < 1e-5 ? '10⁻⁶' : datum.value < 0.01 ? '10⁻³' : datum.value < 10 ? '10⁰' : '10³'","title":"σc"}},
   "y":{"field":"y","type":"quantitative","scale":{"domain":[0,10000],"nice":false,"zero":false},"axis":{"values":[0,2000,4000,6000,8000,10000],"format":"d","title":"⟨N²⟩"}},
   "color":{"field":"s","type":"nominal","scale":{"domain":["I","C","B","R"],"range":["#4c72b0","#dd8452","#55a868","#c44e52"]},"legend":null}},
  "layer":[
   {"mark":{"type":"line","strokeDash":[4.5,2.5],"strokeWidth":1.3,"opacity":0.75,"clip":true}},
   {"mark":{"type":"point","filled":true,"size":20,"opacity":0.6,"clip":true}}
  ]}
 ],"spacing":120,"bounds":"flush","resolve":{"scale":{"color":"independent"},"legend":{"color":"independent"}}},
{"hconcat":[
 {"width":268,"height":268,"data":{"name":"c1"},"transform":[{"fold":["I","C","B","R"],"as":["s","y"]}],
  "title":{"text":"(c)","anchor":"start","frame":"group","dx":-62.7,"dy":-13,"fontSize":20},
  "encoding":{"x":{"field":"x","type":"quantitative","scale":{"type":"log","domain":[1e-6,1000],"nice":false},"axis":{"values":[1e-6,0.001,1,1000],"labelExpr":"datum.value < 1e-5 ? '10⁻⁶' : datum.value < 0.01 ? '10⁻³' : datum.value < 10 ? '10⁰' : '10³'","title":"σc"}},
   "y":{"field":"y","type":"quantitative","scale":{"domain":[0,1.1],"nice":false,"zero":false},"axis":{"values":[0,0.2,0.4,0.6,0.8,1],"format":".1f","title":"S*/M"}}},
  "layer":[
   {"mark":{"type":"line","strokeDash":[4.5,2.5],"strokeWidth":1.3,"opacity":0.75,"clip":true},"encoding":{"color":{"field":"s","type":"nominal","scale":{"domain":["I","C","B","R"],"range":["#4c72b0","#dd8452","#55a868","#c44e52"]},"legend":{"orient":"none","legendX":10.3,"legendY":43,"title":null,"symbolType":"M-1,0H2.74","symbolSize":240,"symbolStrokeWidth":1.3,"symbolDash":[4.5,2.5],"symbolOpacity":0.75,"labelFontSize":15.5,"labelFont":"Liberation Sans","labelColor":"#262626","labelOffset":28.2,"rowPadding":5.5,"padding":5.25,"strokeColor":"#cccccc","fillColor":"rgba(255,255,255,0.8)","cornerRadius":4,"labelExpr":"datum.label == 'I' ? 'Identity' : datum.label == 'C' ? 'Circulant' : datum.label == 'B' ? 'Block' : 'Random'"}}}},
   {"mark":{"type":"point","filled":true,"size":20,"opacity":0.6,"clip":true},"encoding":{"color":{"field":"s","type":"nominal","scale":{"domain":["I","C","B","R"],"range":["#4c72b0","#dd8452","#55a868","#c44e52"]},"legend":null}}}
  ]},
 {"width":268,"height":268,"data":{"name":"c2"},"transform":[{"fold":["I","C","B","R"],"as":["s","y"]}],
  "title":{"text":"Cross-Feeding","anchor":"middle","frame":"group","dx":-16,"dy":-15.5,"fontSize":32},
  "encoding":{"x":{"field":"x","type":"quantitative","scale":{"type":"log","domain":[1e-6,1000],"nice":false},"axis":{"values":[1e-6,0.001,1,1000],"labelExpr":"datum.value < 1e-5 ? '10⁻⁶' : datum.value < 0.01 ? '10⁻³' : datum.value < 10 ? '10⁰' : '10³'","title":"σc"}},
   "y":{"field":"y","type":"quantitative","scale":{"domain":[0,100],"nice":false,"zero":false},"axis":{"values":[0,20,40,60,80,100],"format":"d","title":"⟨N⟩"}},
   "color":{"field":"s","type":"nominal","scale":{"domain":["I","C","B","R"],"range":["#4c72b0","#dd8452","#55a868","#c44e52"]},"legend":null}},
  "layer":[
   {"mark":{"type":"line","strokeDash":[4.5,2.5],"strokeWidth":1.3,"opacity":0.75,"clip":true}},
   {"mark":{"type":"point","filled":true,"size":20,"opacity":0.6,"clip":true}}
  ]},
 {"width":268,"height":268,"data":{"name":"c3"},"transform":[{"fold":["I","C","B","R"],"as":["s","y"]}],
  "encoding":{"x":{"field":"x","type":"quantitative","scale":{"type":"log","domain":[1e-6,1000],"nice":false},"axis":{"values":[1e-6,0.001,1,1000],"labelExpr":"datum.value < 1e-5 ? '10⁻⁶' : datum.value < 0.01 ? '10⁻³' : datum.value < 10 ? '10⁰' : '10³'","title":"σc"}},
   "y":{"field":"y","type":"quantitative","scale":{"domain":[0,10000],"nice":false,"zero":false},"axis":{"values":[0,2000,4000,6000,8000,10000],"format":"d","title":"⟨N²⟩"}},
   "color":{"field":"s","type":"nominal","scale":{"domain":["I","C","B","R"],"range":["#4c72b0","#dd8452","#55a868","#c44e52"]},"legend":null}},
  "layer":[
   {"mark":{"type":"line","strokeDash":[4.5,2.5],"strokeWidth":1.3,"opacity":0.75,"clip":true}},
   {"mark":{"type":"point","filled":true,"size":20,"opacity":0.6,"clip":true}}
  ]}
 ],"spacing":120,"bounds":"flush","resolve":{"scale":{"color":"independent"},"legend":{"color":"independent"}}}
]
}
